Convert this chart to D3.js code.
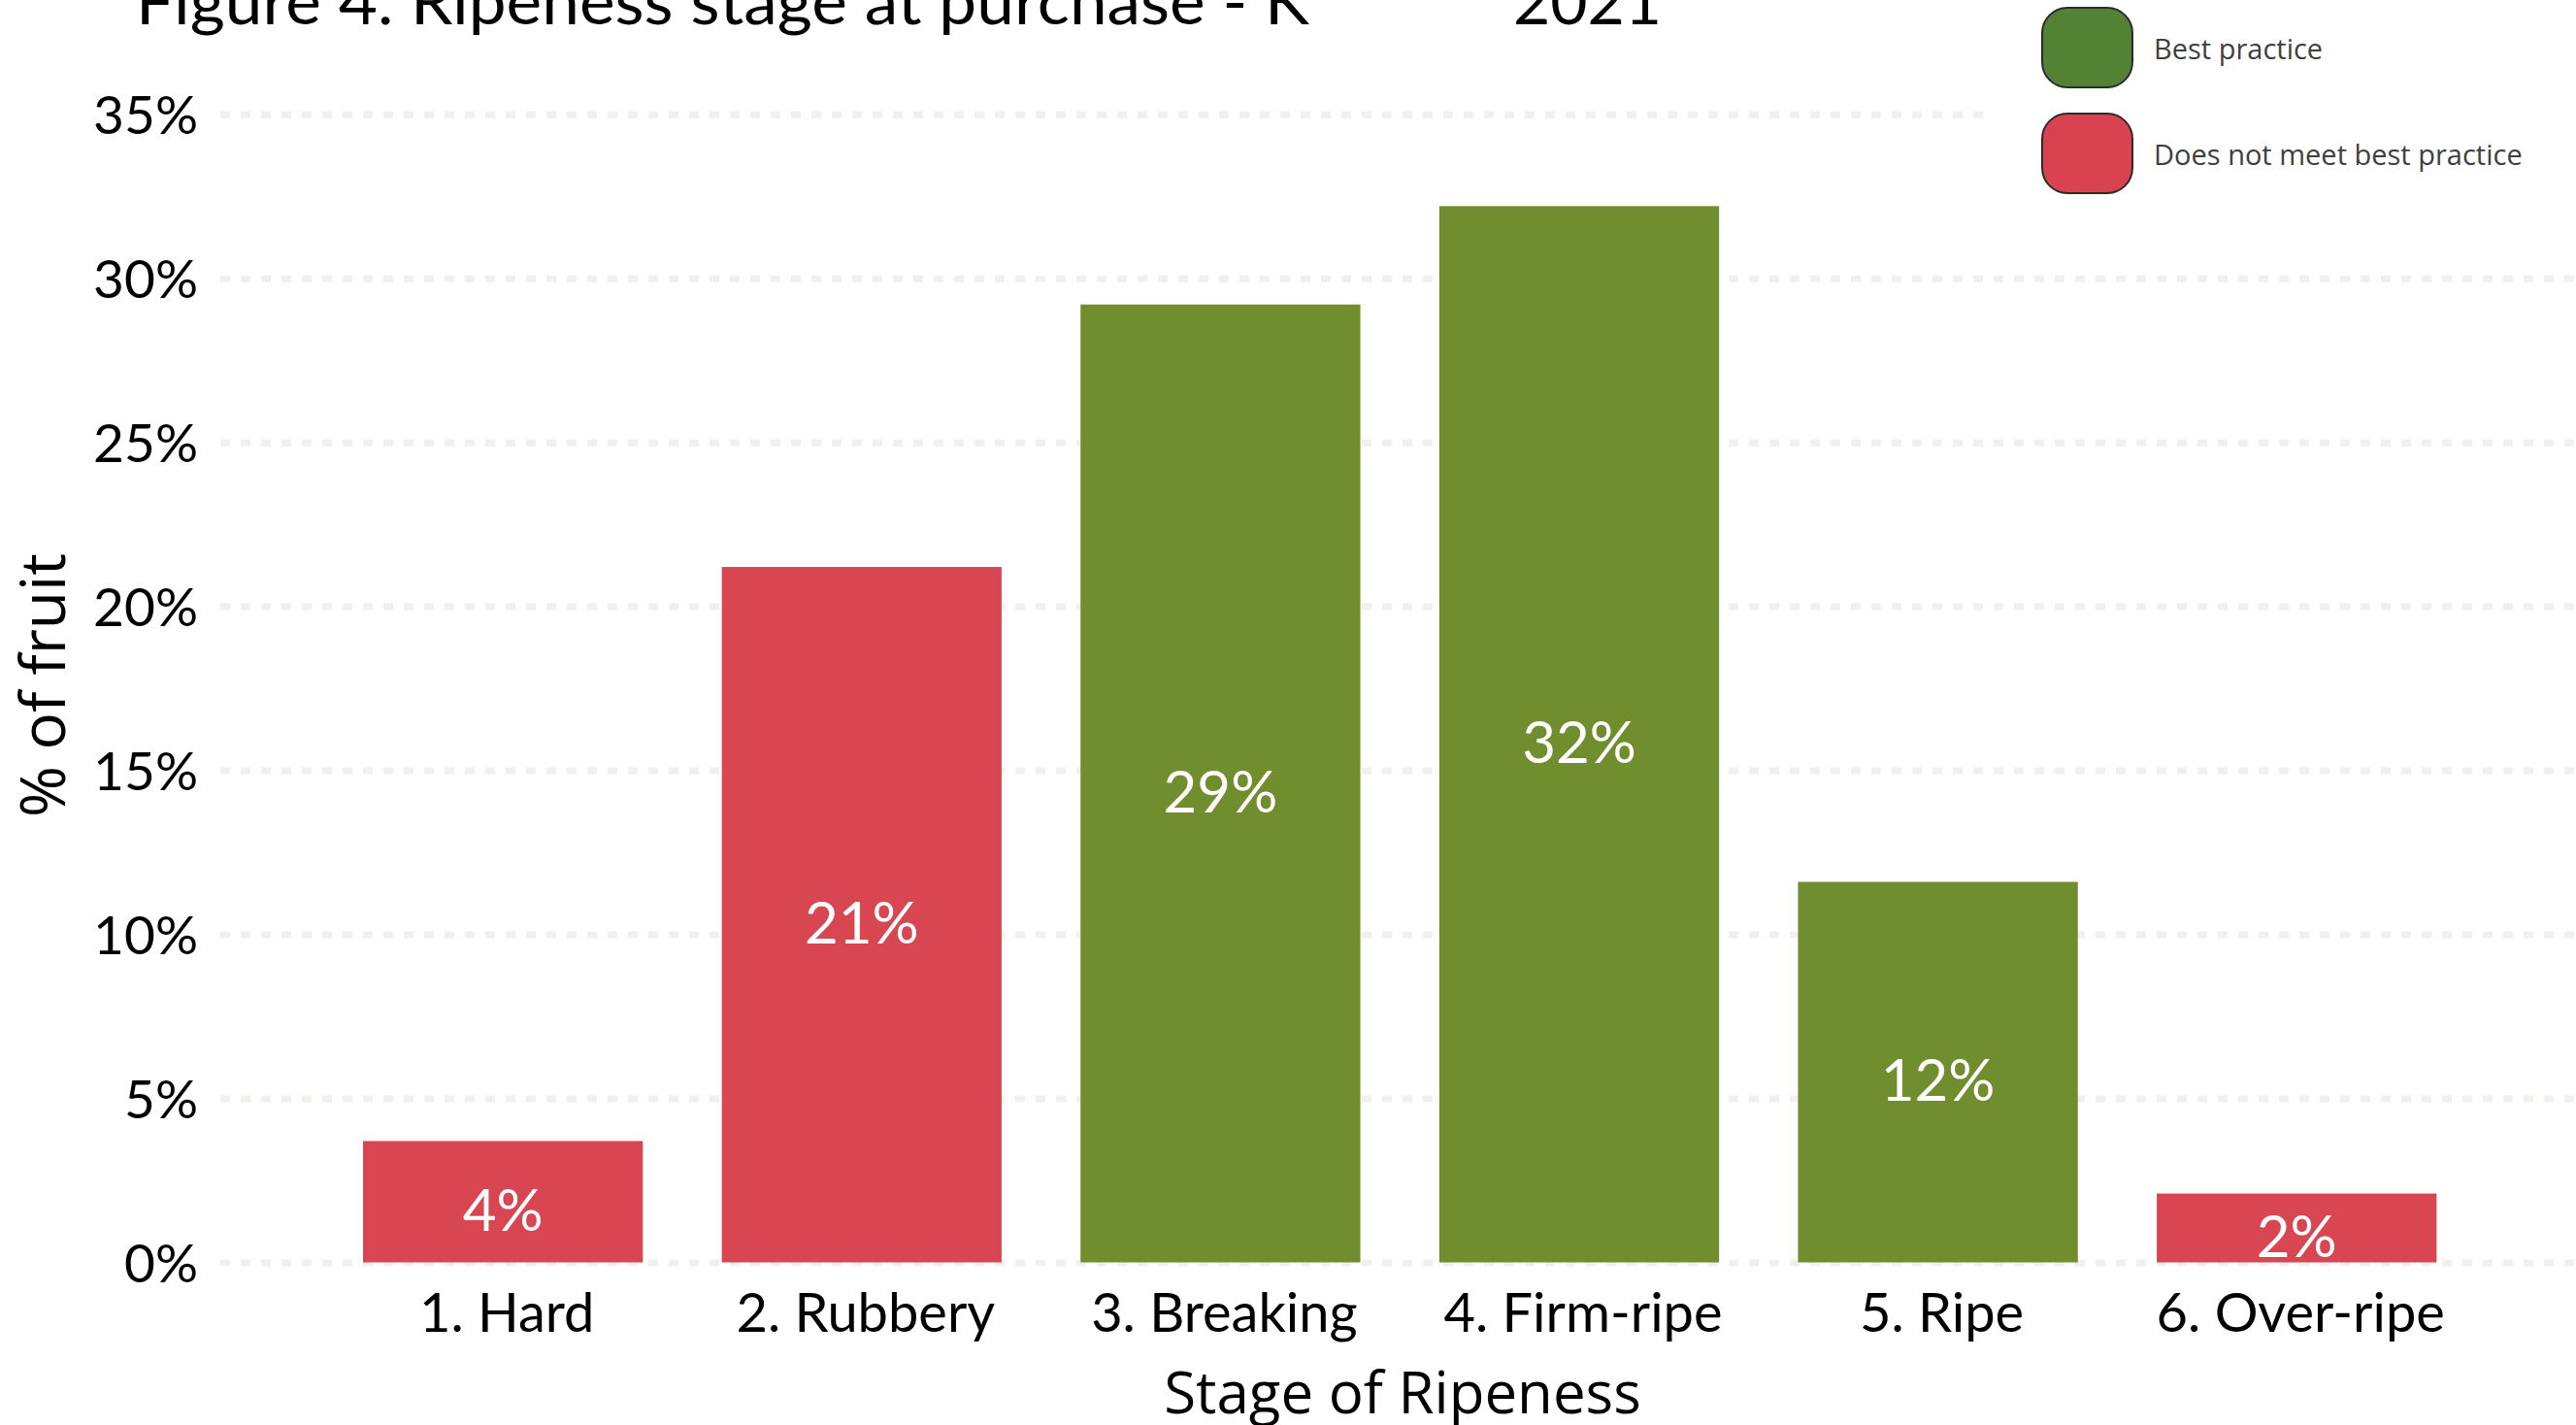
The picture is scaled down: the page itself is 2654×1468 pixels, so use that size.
<!DOCTYPE html>
<html>
<head>
<meta charset="utf-8">
<title>Ripeness stage at purchase</title>
<script src="https://d3js.org/d3.v7.min.js"></script>
<style>
  body { margin: 0; background: #fff; }
  svg { display: block; }
  .tick-lbl { font-family: 'Lato', sans-serif; fill: #000; }
  .grid line { stroke: #f1f0ee; stroke-width: 7; stroke-dasharray: 10 11; }
</style>
</head>
<body>
<div id="chart"></div>
<script>
// data
var stages = ["1. Hard", "2. Rubbery", "3. Breaking", "4. Firm-ripe", "5. Ripe", "6. Over-ripe"];
var values = [3.7, 21.2, 29.2, 32.2, 11.6, 2.1];
var labels = ["4%", "21%", "29%", "32%", "12%", "2%"];
var meetsBest = [false, false, true, true, true, false];
var yTicks = [0, 5, 10, 15, 20, 25, 30, 35];
var legendItems = ["Best practice", "Does not meet best practice"];

var W = 2654, H = 1468;
var svg = d3.select("#chart").append("svg")
  .attr("width", W).attr("height", H);

var x = d3.scaleBand()
  .domain(stages)
  .range([292.7, 2591.7])
  .paddingInner(0.22)
  .paddingOuter(0.22);

var y = d3.scaleLinear()
  .domain([0, 35])
  .range([1300.5, 117.7]);

// dotted gridlines
svg.append("g")
  .attr("class", "grid")
  .attr("transform", "translate(227,0)")
  .call(d3.axisRight(y).tickValues(yTicks).tickSize(W - 227).tickFormat(""))
  .call(function(g) { g.select(".domain").remove(); });

// y tick labels
svg.append("g")
  .attr("transform", "translate(204,0)")
  .call(d3.axisLeft(y).tickValues(yTicks).tickSize(0).tickPadding(0)
    .tickFormat(function(d) { return d + "%"; }))
  .call(function(g) {
    g.select(".domain").remove();
    g.selectAll("text").attr("class", "tick-lbl")
      .style("font-size", "55px").attr("dy", "0.36em");
  });

// bars
svg.selectAll(".bar")
  .data(values)
  .enter().append("rect")
  .attr("class", "bar")
  .attr("x", function(d, i) { return x(stages[i]); })
  .attr("width", x.bandwidth())
  .attr("y", function(d) { return y(d); })
  .attr("height", function(d) { return y(0) - y(d); })
  .attr("fill", function(d, i) { return meetsBest[i] ? "#708e2e" : "#d84652"; });

// value labels
svg.selectAll(".val")
  .data(values)
  .enter().append("text")
  .attr("class", "val")
  .attr("x", function(d, i) { return x(stages[i]) + x.bandwidth() / 2; })
  .attr("y", function(d) { return (y(d) + y(0)) / 2 + 8; })
  .attr("dy", "0.36em")
  .attr("text-anchor", "middle")
  .style("font-family", "'Lato', sans-serif")
  .style("font-size", "60px")
  .style("fill", "#fff")
  .text(function(d, i) { return labels[i]; });

// x tick labels
svg.append("g")
  .attr("transform", "translate(0,1300.5)")
  .call(d3.axisBottom(x).tickSize(0).tickPadding(0))
  .call(function(g) {
    g.select(".domain").remove();
    g.selectAll("text").attr("class", "tick-lbl")
      .attr("dx", 4)
      .style("font-size", "56px").attr("y", 51).attr("dy", "0.36em");
  });

// axis titles
svg.append("text")
  .attr("x", 1445).attr("y", 1434).attr("dy", "0.36em")
  .attr("text-anchor", "middle")
  .style("font-family", "'Open Sans', sans-serif")
  .style("font-size", "60px")
  .text("Stage of Ripeness");

svg.append("text")
  .attr("transform", "translate(44,706) rotate(-90)")
  .attr("dy", "0.36em")
  .attr("text-anchor", "middle")
  .style("font-family", "'Open Sans', sans-serif")
  .style("font-size", "64px")
  .text("% of fruit");

// title (clipped at top in the original)
svg.append("text")
  .attr("x", 140).attr("y", 25)
  .attr("textLength", 1209).attr("lengthAdjust", "spacingAndGlyphs")
  .style("font-family", "'Lato', sans-serif")
  .style("font-size", "66px")
  .text("Figure 4. Ripeness stage at purchase - K");
svg.append("text")
  .attr("x", 1559).attr("y", 25)
  .style("font-family", "'Lato', sans-serif")
  .style("font-size", "66px")
  .text("2021");

// legend
var legend = svg.append("g");
legend.append("rect")
  .attr("x", 2043).attr("y", 0).attr("width", W - 2043).attr("height", 220)
  .attr("fill", "#fff");
var li = legend.selectAll(".li")
  .data(legendItems)
  .enter().append("g")
  .attr("transform", function(d, i) { return "translate(2104," + (8 + i * 109) + ")"; });
li.append("rect")
  .attr("width", 93).attr("height", 82)
  .attr("rx", 26).attr("ry", 26)
  .attr("fill", function(d, i) { return i === 0 ? "#548235" : "#d9434f"; })
  .attr("stroke", "#2b2b2b").attr("stroke-width", 2);
li.append("text")
  .attr("x", 115).attr("y", 43).attr("dy", "0.36em")
  .style("font-family", "'Open Sans', sans-serif")
  .style("font-size", "29px")
  .style("fill", "#3f3f3f")
  .text(function(d) { return d; });
</script>
</body>
</html>
